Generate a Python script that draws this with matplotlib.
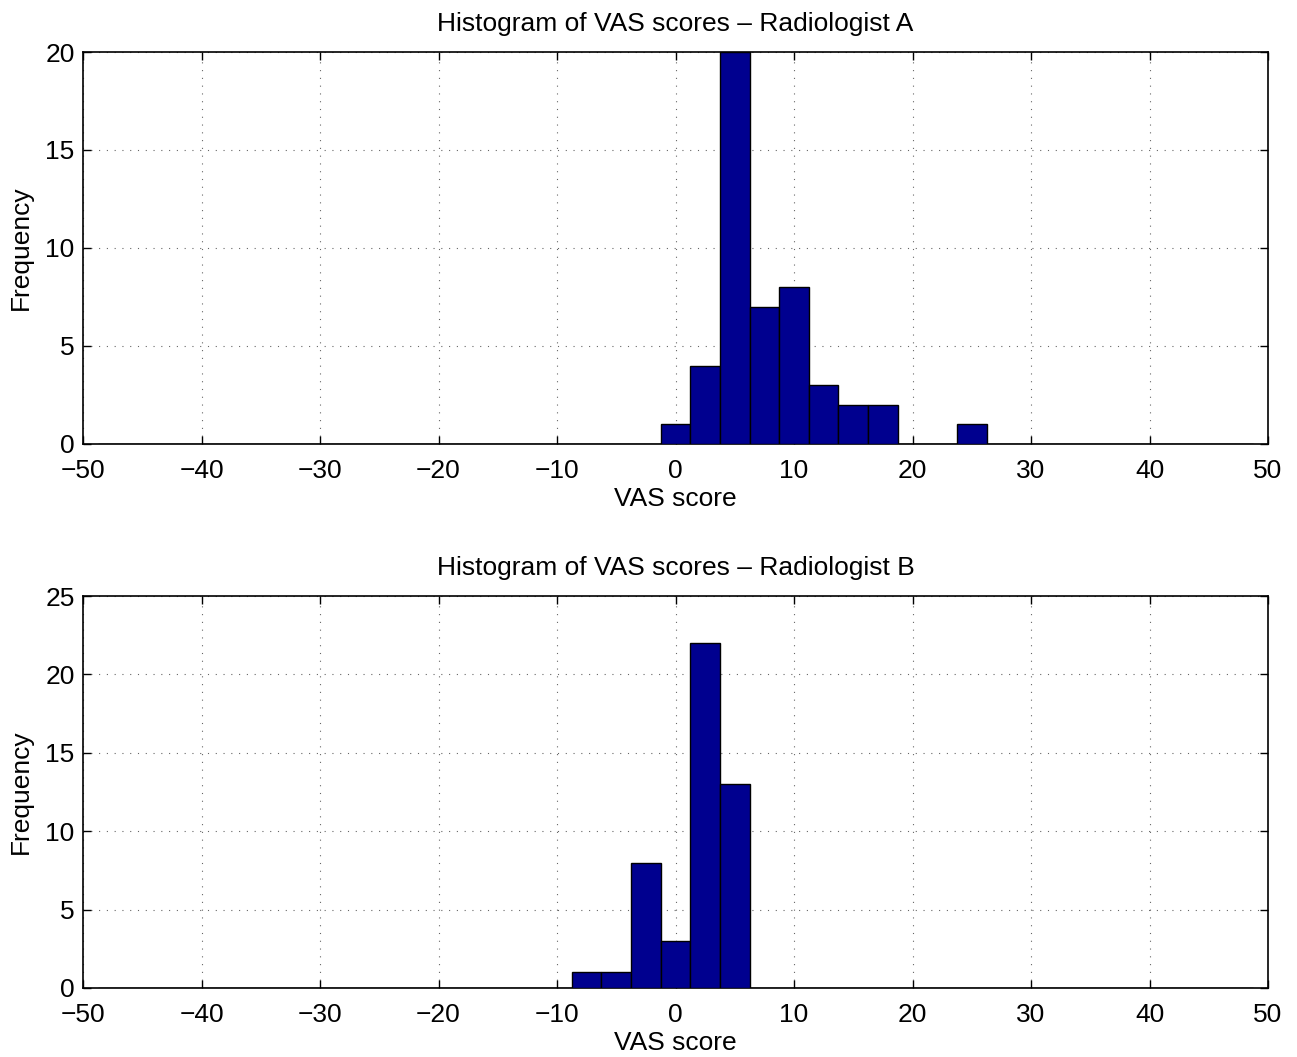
import numpy as np
import matplotlib
matplotlib.use("Agg")
import matplotlib.pyplot as plt

# === DATA (bin counts) ===
bin_centers = np.arange(-47.5, 47.6, 2.5)
counts_a = {0.0: 1, 2.5: 4, 5.0: 20, 7.5: 7, 10.0: 8, 12.5: 3, 15.0: 2, 17.5: 2, 25.0: 1}
counts_b = {-7.5: 1, -5.0: 1, -2.5: 8, 0.0: 3, 2.5: 22, 5.0: 13}
titles = ["Histogram of VAS scores \u2013 Radiologist A",
          "Histogram of VAS scores \u2013 Radiologist B"]
ylims = [20, 25]

plt.rcParams['font.family'] = ['Liberation Sans', 'DejaVu Sans']
plt.rcParams['font.size'] = 19

fig = plt.figure(figsize=(12.97, 10.57), dpi=100)
left, width = 0.064, 0.9137
boxes = [[left, 0.580, width, 0.3708], [left, 0.0653, width, 0.3708]]

for box, counts, title, ymax in zip(boxes, [counts_a, counts_b], titles, ylims):
    ax = fig.add_axes(box)
    heights = [counts.get(round(c, 2), 0) for c in bin_centers]
    ax.bar(bin_centers, heights, width=2.5, color="#00008F", edgecolor="black",
           linewidth=1.0, zorder=3)
    ax.set_xlim(-50, 50)
    ax.set_ylim(0, ymax)
    ax.set_xticks(np.arange(-50, 51, 10))
    ax.set_yticks(np.arange(0, ymax + 1, 5))
    ax.grid(True, linestyle=(0, (1, 6)), color="black", linewidth=0.8, alpha=0.6)
    ax.tick_params(direction="in", top=True, right=True, length=6, width=1)
    ax.tick_params(axis="x", pad=11)
    ax.tick_params(axis="y", pad=6)
    for s in ax.spines.values():
        s.set_linewidth(1.2)
    ax.set_title(title, fontsize=19, pad=15)
    ax.set_xlabel("VAS score", labelpad=3)
    ax.set_ylabel("Frequency", labelpad=9)

plt.savefig("out.png", dpi=100)
